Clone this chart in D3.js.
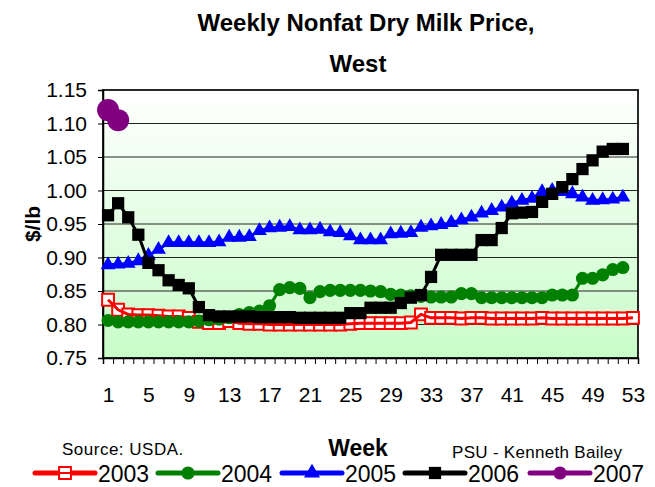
<!DOCTYPE html>
<html>
<head>
<meta charset="utf-8">
<script src="https://cdn.jsdelivr.net/npm/d3@7"></script>
<style>
body { margin: 0; background: #fff; }
text { font-family: Arial, "Liberation Sans", sans-serif; fill: #000; }
</style>
</head>
<body>
<div id="chart"></div>
<script>
const width = 655;
const height = 487;

// weekly prices, $/lb
const weekTicks = [1, 5, 9, 13, 17, 21, 25, 29, 33, 37, 41, 45, 49, 53];
const priceTicks = [0.75, 0.80, 0.85, 0.90, 0.95, 1.00, 1.05, 1.10, 1.15];
const years = ["2003", "2004", "2005", "2006", "2007"];
const colors = ["#ff0000", "#008000", "#0000ff", "#000000", "#800080"];

const p2003 = [0.837, 0.822, 0.815, 0.814, 0.814, 0.813, 0.812, 0.812, 0.810, 0.804,
    0.802, 0.802, 0.805, 0.802, 0.801, 0.801, 0.800, 0.800, 0.800, 0.800,
    0.800, 0.800, 0.800, 0.800, 0.801, 0.802, 0.802, 0.802, 0.802, 0.802,
    0.803, 0.815, 0.810, 0.810, 0.810, 0.809, 0.810, 0.810, 0.809, 0.809,
    0.809, 0.809, 0.809, 0.810, 0.809, 0.809, 0.809, 0.809, 0.809, 0.809,
    0.809, 0.809, 0.810];
const p2004 = [0.806, 0.804, 0.804, 0.804, 0.804, 0.804, 0.804, 0.804, 0.804, 0.805,
    0.807, 0.808, 0.810, 0.815, 0.818, 0.820, 0.828, 0.852, 0.855, 0.854,
    0.840, 0.849, 0.851, 0.851, 0.851, 0.851, 0.850, 0.849, 0.845, 0.844,
    0.843, 0.842, 0.841, 0.841, 0.841, 0.846, 0.846, 0.840, 0.840, 0.840,
    0.840, 0.840, 0.840, 0.840, 0.844, 0.844, 0.844, 0.869, 0.869, 0.874,
    0.882, 0.885];
const p2005 = [0.889, 0.890, 0.891, 0.895, 0.903, 0.912, 0.922, 0.922, 0.922, 0.922,
    0.922, 0.923, 0.930, 0.930, 0.931, 0.940, 0.944, 0.945, 0.946, 0.941,
    0.941, 0.942, 0.938, 0.937, 0.932, 0.926, 0.926, 0.926, 0.935, 0.936,
    0.937, 0.945, 0.947, 0.949, 0.952, 0.956, 0.960, 0.966, 0.970, 0.975,
    0.981, 0.985, 0.988, 0.998, 1.000, 0.998, 0.995, 0.990, 0.985, 0.986,
    0.987, 0.990];
const p2006 = [0.963, 0.981, 0.960, 0.934, 0.892, 0.881, 0.866, 0.859, 0.854, 0.826,
    0.814, 0.812, 0.812, 0.812, 0.812, 0.811, 0.811, 0.811, 0.811, 0.810,
    0.810, 0.810, 0.810, 0.810, 0.817, 0.817, 0.825, 0.825, 0.825, 0.832,
    0.840, 0.844, 0.871, 0.904, 0.904, 0.904, 0.904, 0.926, 0.926, 0.944,
    0.966, 0.967, 0.968, 0.983, 0.995, 1.005, 1.017, 1.032, 1.045, 1.058,
    1.062, 1.062];
const p2007 = [1.120, 1.105];

const series = [p2003, p2004, p2005, p2006, p2007];

const plotLeft = 103, plotRight = 638, plotTop = 90, plotBottom = 358;

const x = d3.scaleLinear().domain([0.5, 53.5]).range([plotLeft, plotRight]);
const y = d3.scaleLinear().domain([0.75, 1.15]).range([plotBottom, plotTop]);

const svg = d3.select("#chart")
    .append("svg")
    .attr("width", width)
    .attr("height", height);

// plot background, white at top fading to light green
const grad = svg.append("defs").append("linearGradient")
    .attr("id", "bg")
    .attr("x1", 0).attr("y1", 0).attr("x2", 0).attr("y2", 1);
grad.append("stop").attr("offset", "0%").attr("stop-color", "#ffffff");
grad.append("stop").attr("offset", "100%").attr("stop-color", "#c8fcc8");

svg.append("rect")
    .attr("x", plotLeft).attr("y", plotTop)
    .attr("width", plotRight - plotLeft).attr("height", plotBottom - plotTop)
    .attr("fill", "url(#bg)");

// gridlines
svg.append("g")
    .selectAll("line")
    .data(priceTicks.slice(1, -1))
    .enter()
    .append("line")
    .attr("x1", plotLeft).attr("x2", plotRight)
    .attr("y1", d => y(d)).attr("y2", d => y(d))
    .attr("stroke", "#222")
    .attr("stroke-width", 1);

// border
svg.append("rect")
    .attr("x", plotLeft).attr("y", plotTop)
    .attr("width", plotRight - plotLeft).attr("height", plotBottom - plotTop)
    .attr("fill", "none")
    .attr("stroke", "#111")
    .attr("stroke-width", 1.8);

// y axis
const yAxis = svg.append("g")
    .attr("transform", "translate(" + plotLeft + ",0)")
    .call(d3.axisLeft(y).tickValues(priceTicks).tickSize(5).tickPadding(11).tickFormat(d3.format(".2f")));
yAxis.selectAll("text").style("font-size", "21px");

// x axis: marks between weeks, labels every 4th week
svg.append("g")
    .attr("transform", "translate(0," + plotBottom + ")")
    .call(d3.axisBottom(x).tickValues(d3.range(0.5, 54, 1)).tickSize(6).tickFormat(""));
const xLabels = svg.append("g")
    .attr("transform", "translate(0," + plotBottom + ")")
    .call(d3.axisBottom(x).tickValues(weekTicks).tickSize(0).tickPadding(29));
xLabels.select(".domain").remove();
xLabels.selectAll("text").style("font-size", "21px");

svg.selectAll(".domain").attr("stroke", "#000").attr("stroke-width", 1.5);
svg.selectAll(".tick line").attr("stroke", "#000");

// markers per series
const markerSymbols = [d3.symbolSquare, d3.symbolCircle, d3.symbolTriangle, d3.symbolSquare, d3.symbolCircle];
const markerSizes = [140, 135, 95, 150, 380];

function drawMarkers(g, vals, i) {
    g.selectAll("path.m")
        .data(vals)
        .enter()
        .append("path")
        .attr("class", "m")
        .attr("transform", (d, j) => "translate(" + x(j + 1) + "," + y(d) + ")")
        .attr("d", d3.symbol().type(markerSymbols[i]).size(markerSizes[i]))
        .attr("fill", i == 0 ? "#fff" : colors[i])
        .attr("stroke", i == 0 ? colors[i] : "none")
        .attr("stroke-width", 2);
}

const line = d3.line()
    .x((d, j) => x(j + 1))
    .y(d => y(d));

series.forEach(function (vals, i) {
    let g = svg.append("g");
    if (i == 0) drawMarkers(g, vals, i);
    g.append("path")
        .datum(vals)
        .attr("d", line)
        .attr("fill", "none")
        .attr("stroke", colors[i])
        .attr("stroke-width", 3);
    if (i != 0) drawMarkers(g, vals, i);
});

// titles
svg.append("text")
    .attr("x", 366).attr("y", 31)
    .attr("text-anchor", "middle")
    .style("font-size", "24px").style("font-weight", "bold")
    .text("Weekly Nonfat Dry Milk Price,");
svg.append("text")
    .attr("x", 358).attr("y", 72)
    .attr("text-anchor", "middle")
    .style("font-size", "24px").style("font-weight", "bold")
    .text("West");

svg.append("text")
    .attr("transform", "translate(40,224)rotate(-90)")
    .attr("text-anchor", "middle")
    .style("font-size", "21px").style("font-weight", "bold")
    .text("$/lb");

svg.append("text")
    .attr("x", 358).attr("y", 456)
    .attr("text-anchor", "middle")
    .style("font-size", "23px").style("font-weight", "bold")
    .text("Week");

svg.append("text")
    .attr("x", 62).attr("y", 455)
    .style("font-size", "17px").style("letter-spacing", "0.5px")
    .text("Source: USDA.");

svg.append("text")
    .attr("x", 452).attr("y", 458)
    .style("font-size", "17px").style("letter-spacing", "0.3px")
    .text("PSU - Kenneth Bailey");

// legend
const legendX = [35, 158, 282, 405, 530];
const legendMarkerSizes = [140, 135, 110, 150, 135];
years.forEach(function (yr, i) {
    let g = svg.append("g").attr("transform", "translate(" + legendX[i] + ",473)");
    g.append("line")
        .attr("x1", 0).attr("x2", 60)
        .attr("stroke", colors[i])
        .attr("stroke-width", 5)
        .attr("stroke-linecap", "round");
    g.append("path")
        .attr("transform", "translate(30,0)")
        .attr("d", d3.symbol().type(markerSymbols[i]).size(legendMarkerSizes[i]))
        .attr("fill", i == 0 ? "#fff" : colors[i])
        .attr("stroke", i == 0 ? colors[i] : "none")
        .attr("stroke-width", 2);
    if (i == 0) {
        g.append("line").attr("x1", 24).attr("x2", 36).attr("stroke", colors[i]).attr("stroke-width", 2);
    }
    g.append("text")
        .attr("x", 63).attr("y", 9)
        .style("font-size", "23px")
        .text(yr);
});
</script>
</body>
</html>
